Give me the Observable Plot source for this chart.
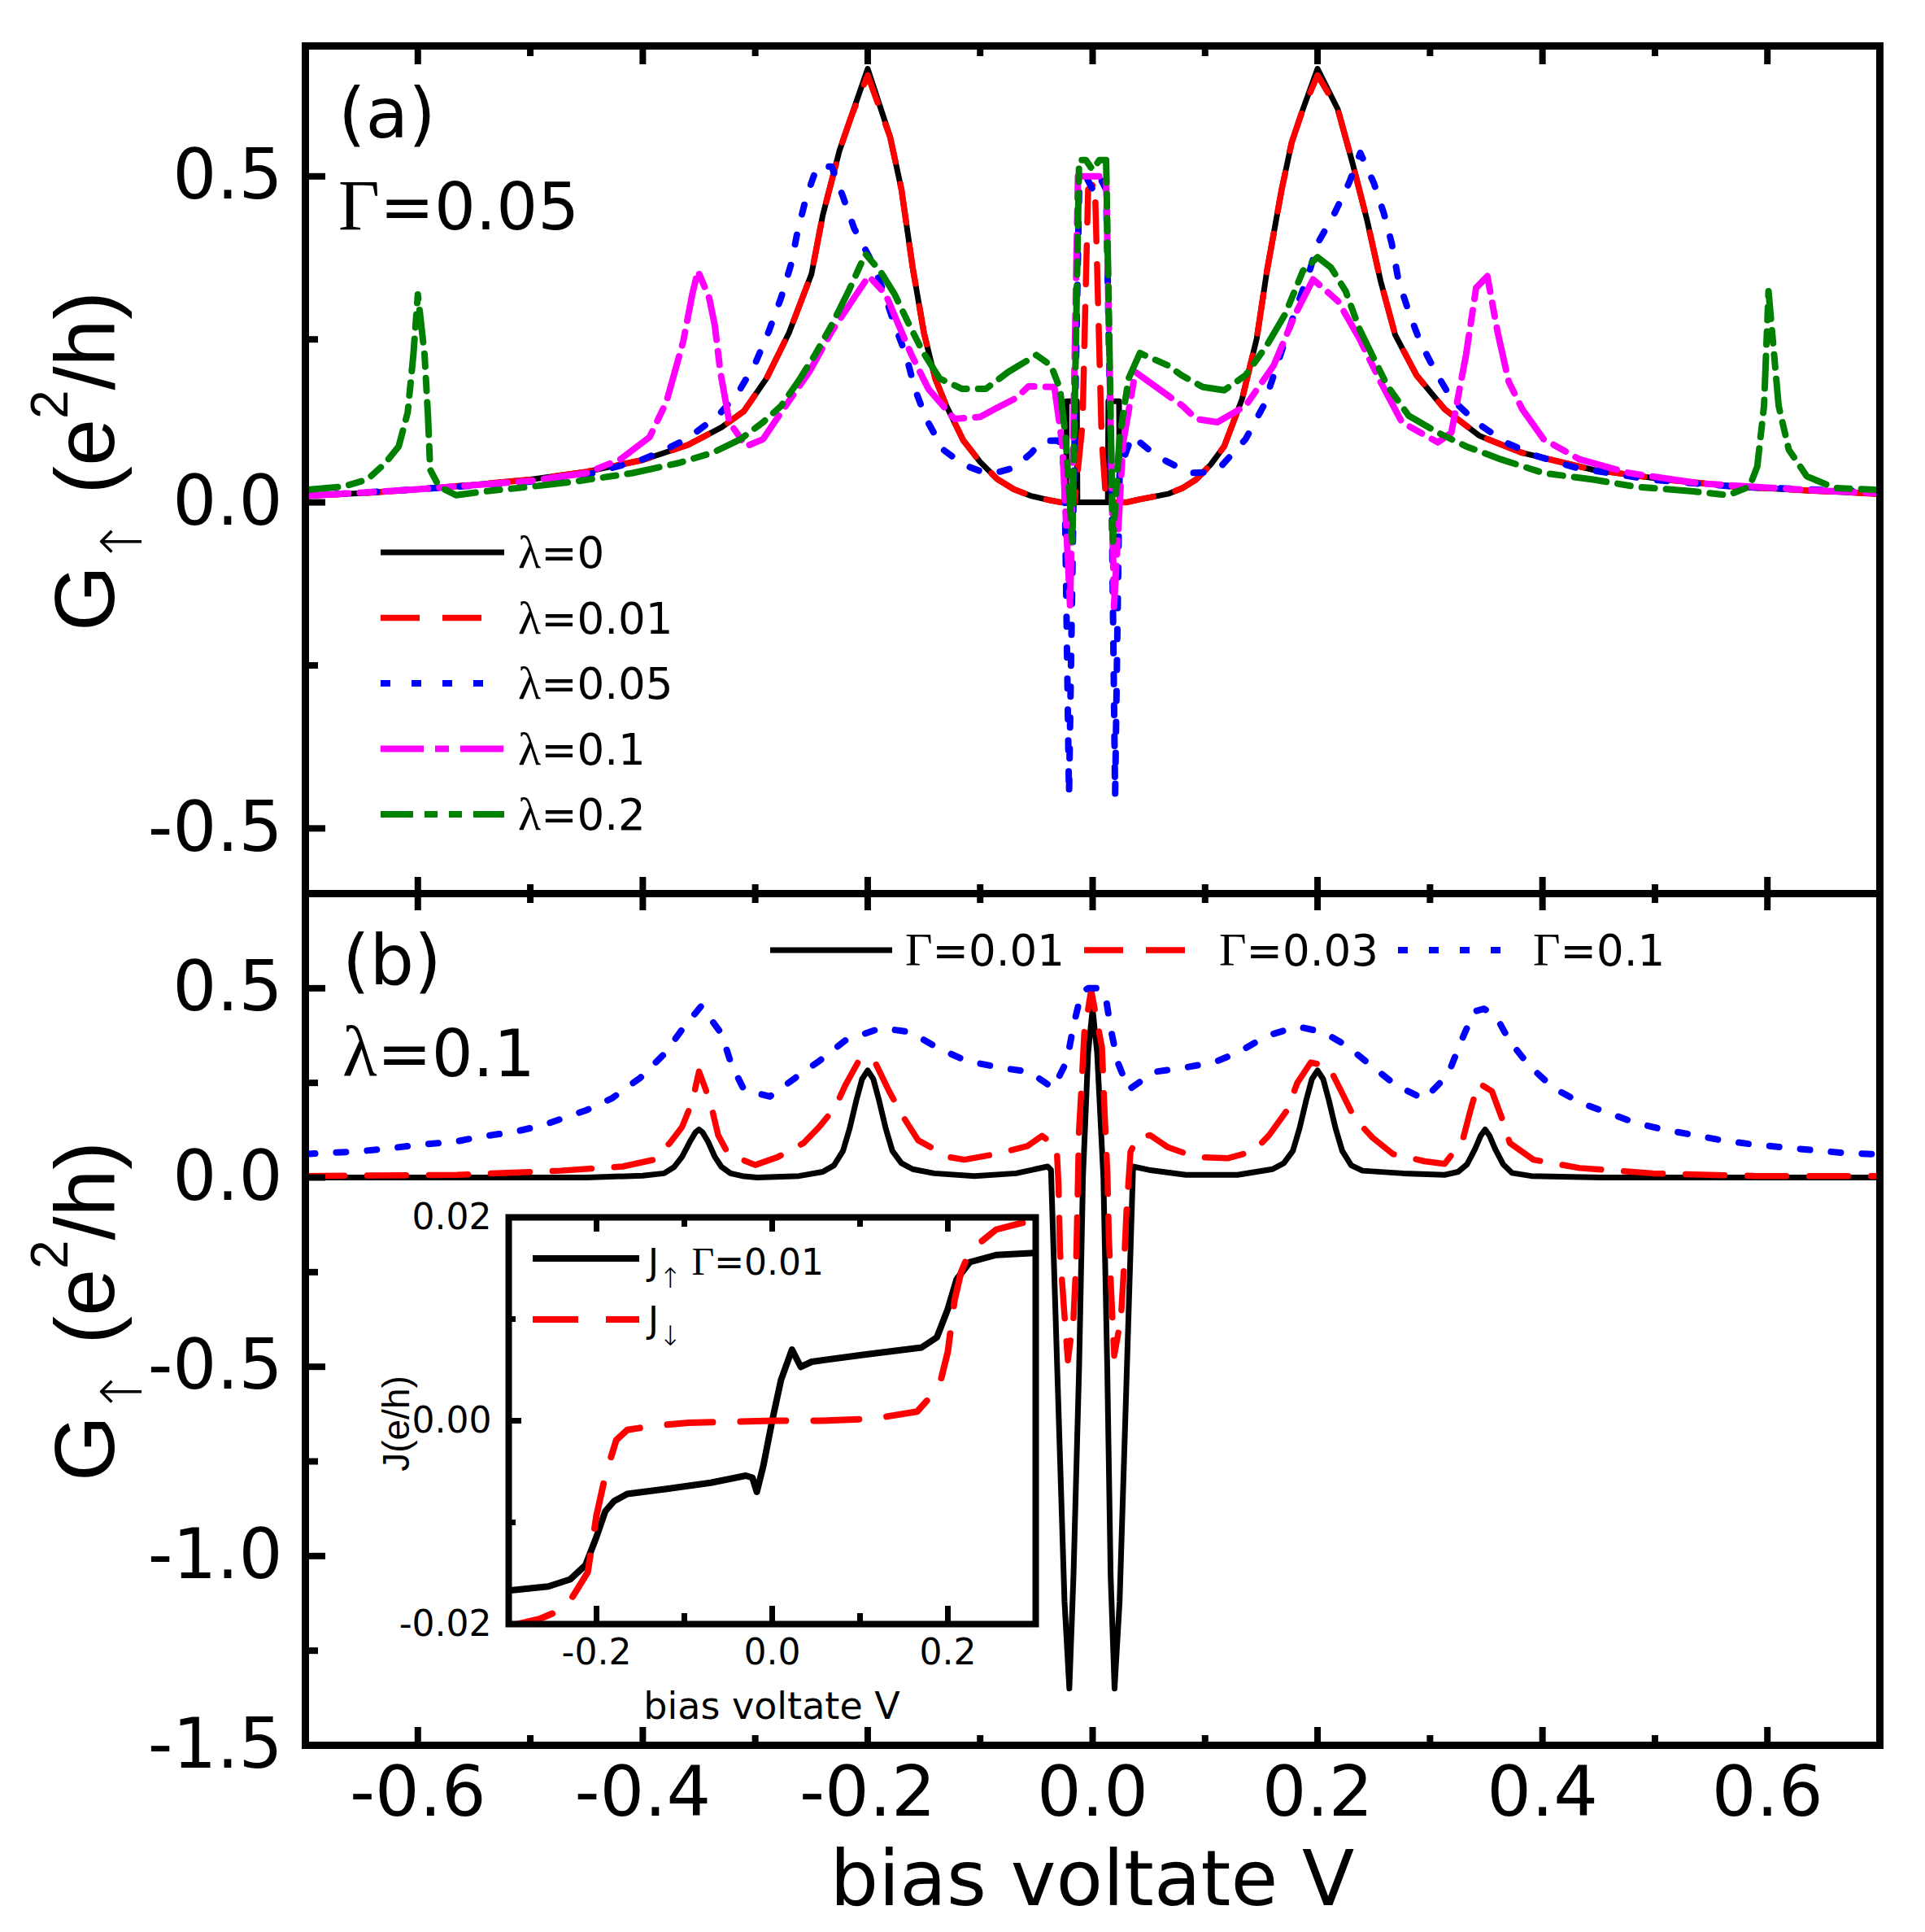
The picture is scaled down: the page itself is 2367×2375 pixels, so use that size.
<!DOCTYPE html>
<html lang="en">
<head>
<meta charset="utf-8">
<title>Spin-up conductance versus bias voltage</title>
<script src="https://cdn.jsdelivr.net/npm/d3@7"></script>
<script src="https://cdn.jsdelivr.net/npm/@observablehq/plot@0.6"></script>
<style>
  body { margin: 0; background: #fff; }
  #figure { position: relative; width: 2367px; height: 2375px; overflow: hidden; background: #fff; }
</style>
</head>
<body>
<div id="figure"></div>
<script>
// ---- ticks ----
const xMajor = [-0.6, -0.4, -0.2, 0, 0.2, 0.4, 0.6];
const xMinor = [-0.5, -0.3, -0.1, 0.1, 0.3, 0.5];
const yMajorA = [-0.5, 0, 0.5];
const yMinorA = [-0.25, 0.25];
const yMajorB = [-1.5, -1, -0.5, 0, 0.5];
const yMinorB = [-1.25, -0.75, -0.25, 0.25];
const insetXMajor = [-0.2, 0, 0.2];
const insetXMinor = [-0.1, 0.1];
const insetYMajor = [-0.02, 0, 0.02];
const insetYMinor = [-0.01, 0.01];

// ---- legend labels ----
const lambdaLabels = ["0", "0.01", "0.05", "0.1", "0.2"];
const gammaLabels = ["0.01", "0.03", "0.1"];

// ---- panel (a): G_up vs V, Gamma = 0.05, [V, G] ----
const gA_lam0 = [[-0.70,0.010],[-0.65,0.014],[-0.60,0.020],[-0.55,0.027],[-0.50,0.035],[-0.45,0.047],[-0.40,0.065],[-0.36,0.088],[-0.33,0.115],[-0.31,0.140],[-0.29,0.190],[-0.27,0.260],[-0.25,0.350],[-0.24,0.440],[-0.225,0.540],[-0.215,0.590],[-0.20,0.665],[-0.18,0.560],[-0.17,0.480],[-0.16,0.360],[-0.15,0.260],[-0.14,0.190],[-0.13,0.148],[-0.115,0.095],[-0.10,0.062],[-0.085,0.036],[-0.07,0.020],[-0.055,0.010],[-0.04,0.004],[-0.028,0.0],[-0.0235,0.0],[-0.023,0.155],[-0.014,0.155],[-0.0135,0.0],[0.0135,0.0],[0.014,0.155],[0.0235,0.155],[0.024,0.0],[0.03,0.0],[0.04,0.004],[0.055,0.009],[0.067,0.013],[0.08,0.022],[0.092,0.035],[0.105,0.058],[0.117,0.086],[0.133,0.159],[0.146,0.252],[0.155,0.355],[0.168,0.479],[0.177,0.552],[0.187,0.603],[0.20,0.665],[0.218,0.603],[0.231,0.521],[0.244,0.433],[0.256,0.340],[0.269,0.257],[0.288,0.195],[0.313,0.143],[0.344,0.102],[0.382,0.076],[0.445,0.050],[0.509,0.035],[0.572,0.024],[0.64,0.018],[0.70,0.013]];
const gA_lam001 = [[-0.70,0.010],[-0.65,0.014],[-0.60,0.020],[-0.55,0.027],[-0.50,0.035],[-0.45,0.047],[-0.40,0.065],[-0.36,0.088],[-0.33,0.115],[-0.31,0.140],[-0.29,0.190],[-0.27,0.260],[-0.25,0.350],[-0.24,0.440],[-0.225,0.540],[-0.215,0.590],[-0.20,0.655],[-0.18,0.560],[-0.17,0.480],[-0.16,0.360],[-0.15,0.260],[-0.14,0.190],[-0.13,0.148],[-0.115,0.095],[-0.10,0.062],[-0.085,0.036],[-0.07,0.020],[-0.055,0.010],[-0.04,0.004],[-0.028,0.0],[-0.016,0.0],[-0.009,0.12],[-0.004,0.48],[0.002,0.49],[0.008,0.10],[0.012,0.0],[0.03,0.0],[0.04,0.004],[0.055,0.009],[0.067,0.013],[0.08,0.022],[0.092,0.035],[0.105,0.058],[0.117,0.086],[0.133,0.159],[0.146,0.252],[0.155,0.355],[0.168,0.479],[0.177,0.552],[0.187,0.603],[0.20,0.655],[0.218,0.603],[0.231,0.521],[0.244,0.433],[0.256,0.340],[0.269,0.257],[0.288,0.195],[0.313,0.143],[0.344,0.102],[0.382,0.076],[0.445,0.050],[0.509,0.035],[0.572,0.024],[0.64,0.018],[0.70,0.013]];
const gA_lam005 = [[-0.70,0.010],[-0.60,0.020],[-0.50,0.032],[-0.45,0.042],[-0.40,0.066],[-0.386,0.076],[-0.361,0.097],[-0.333,0.133],[-0.315,0.169],[-0.30,0.213],[-0.288,0.262],[-0.277,0.314],[-0.268,0.366],[-0.263,0.41],[-0.255,0.466],[-0.245,0.515],[-0.232,0.515],[-0.222,0.469],[-0.212,0.42],[-0.196,0.368],[-0.186,0.324],[-0.176,0.272],[-0.166,0.226],[-0.158,0.174],[-0.148,0.128],[-0.133,0.081],[-0.115,0.058],[-0.10,0.048],[-0.085,0.046],[-0.07,0.053],[-0.055,0.075],[-0.045,0.094],[-0.03,0.095],[-0.025,0.05],[-0.021,-0.45],[-0.017,0.0],[-0.012,0.48],[-0.006,0.50],[0.0,0.48],[0.006,0.50],[0.012,0.48],[0.017,0.0],[0.020,-0.45],[0.024,0.05],[0.035,0.102],[0.057,0.071],[0.086,0.045],[0.10,0.046],[0.114,0.055],[0.136,0.097],[0.152,0.148],[0.162,0.20],[0.171,0.247],[0.18,0.293],[0.193,0.355],[0.20,0.397],[0.215,0.443],[0.228,0.49],[0.238,0.536],[0.25,0.49],[0.259,0.443],[0.266,0.397],[0.272,0.34],[0.281,0.293],[0.291,0.247],[0.305,0.20],[0.319,0.159],[0.341,0.123],[0.367,0.092],[0.395,0.071],[0.43,0.053],[0.496,0.035],[0.572,0.024],[0.70,0.016]];
const gA_lam01 = [[-0.70,0.010],[-0.60,0.020],[-0.50,0.033],[-0.45,0.045],[-0.42,0.066],[-0.394,0.10],[-0.379,0.154],[-0.364,0.247],[-0.356,0.319],[-0.351,0.355],[-0.341,0.314],[-0.336,0.272],[-0.331,0.20],[-0.323,0.123],[-0.308,0.086],[-0.293,0.097],[-0.275,0.143],[-0.252,0.20],[-0.232,0.262],[-0.212,0.314],[-0.199,0.347],[-0.184,0.319],[-0.174,0.278],[-0.161,0.226],[-0.146,0.174],[-0.123,0.128],[-0.10,0.131],[-0.085,0.145],[-0.068,0.160],[-0.057,0.178],[-0.034,0.177],[-0.027,0.09],[-0.020,-0.16],[-0.013,0.50],[-0.005,0.50],[0.005,0.50],[0.012,0.50],[0.019,-0.16],[0.027,0.09],[0.038,0.20],[0.054,0.18],[0.08,0.148],[0.092,0.128],[0.111,0.123],[0.136,0.148],[0.161,0.21],[0.18,0.288],[0.196,0.342],[0.218,0.309],[0.237,0.252],[0.256,0.185],[0.275,0.123],[0.307,0.092],[0.319,0.107],[0.332,0.226],[0.341,0.329],[0.351,0.347],[0.36,0.262],[0.37,0.185],[0.382,0.143],[0.401,0.097],[0.433,0.066],[0.477,0.045],[0.54,0.029],[0.635,0.019],[0.70,0.014]];
const gA_lam02 = [[-0.70,0.019],[-0.667,0.024],[-0.645,0.035],[-0.629,0.06],[-0.617,0.086],[-0.609,0.138],[-0.604,0.226],[-0.600,0.319],[-0.594,0.226],[-0.591,0.133],[-0.589,0.05],[-0.581,0.024],[-0.566,0.011],[-0.54,0.017],[-0.50,0.024],[-0.46,0.032],[-0.409,0.045],[-0.369,0.06],[-0.338,0.076],[-0.313,0.097],[-0.293,0.123],[-0.277,0.148],[-0.262,0.185],[-0.247,0.226],[-0.232,0.272],[-0.217,0.324],[-0.202,0.381],[-0.189,0.355],[-0.176,0.319],[-0.163,0.272],[-0.151,0.231],[-0.136,0.19],[-0.116,0.174],[-0.095,0.174],[-0.075,0.20],[-0.05,0.226],[-0.037,0.21],[-0.029,0.174],[-0.024,0.10],[-0.018,-0.06],[-0.012,0.525],[-0.006,0.525],[0.0,0.51],[0.006,0.525],[0.012,0.525],[0.018,-0.06],[0.024,0.10],[0.032,0.19],[0.042,0.229],[0.067,0.21],[0.079,0.195],[0.098,0.177],[0.117,0.172],[0.136,0.195],[0.155,0.241],[0.171,0.288],[0.187,0.355],[0.20,0.376],[0.212,0.36],[0.225,0.324],[0.237,0.267],[0.25,0.221],[0.262,0.179],[0.281,0.133],[0.307,0.107],[0.332,0.086],[0.363,0.066],[0.401,0.045],[0.445,0.035],[0.483,0.024],[0.534,0.017],[0.565,0.011],[0.584,0.024],[0.591,0.055],[0.597,0.148],[0.601,0.324],[0.606,0.226],[0.61,0.148],[0.619,0.081],[0.635,0.04],[0.66,0.022],[0.70,0.019]];

// ---- panel (b): G_up vs V, lambda = 0.1 ----
const gB_gam001 = [[-0.70,0.0],[-0.45,0.0],[-0.40,0.005],[-0.381,0.011],[-0.372,0.028],[-0.365,0.055],[-0.358,0.095],[-0.353,0.12],[-0.35,0.127],[-0.347,0.12],[-0.342,0.095],[-0.336,0.055],[-0.33,0.028],[-0.322,0.011],[-0.31,0.003],[-0.298,0.0],[-0.261,0.004],[-0.24,0.015],[-0.23,0.032],[-0.222,0.07],[-0.216,0.13],[-0.21,0.205],[-0.205,0.26],[-0.20,0.283],[-0.195,0.26],[-0.19,0.205],[-0.184,0.13],[-0.178,0.07],[-0.17,0.038],[-0.16,0.022],[-0.141,0.011],[-0.105,0.004],[-0.068,0.011],[-0.04,0.029],[-0.037,0.02],[-0.031,-0.55],[-0.025,-1.12],[-0.0207,-1.35],[-0.017,-1.05],[-0.012,-0.5],[-0.0086,0.0],[-0.004,0.33],[0.0,0.445],[0.004,0.33],[0.0096,0.0],[0.013,-0.5],[0.016,-1.05],[0.0195,-1.35],[0.024,-1.12],[0.030,-0.55],[0.036,0.029],[0.05,0.02],[0.083,0.007],[0.129,0.007],[0.16,0.022],[0.17,0.038],[0.178,0.07],[0.184,0.13],[0.19,0.205],[0.195,0.26],[0.20,0.283],[0.205,0.26],[0.21,0.205],[0.216,0.13],[0.222,0.07],[0.23,0.032],[0.24,0.018],[0.276,0.011],[0.313,0.007],[0.325,0.015],[0.333,0.035],[0.34,0.075],[0.345,0.11],[0.349,0.127],[0.353,0.11],[0.358,0.075],[0.365,0.035],[0.373,0.012],[0.39,0.004],[0.452,0.0],[0.70,0.0]];
const gB_gam003 = [[-0.70,0.004],[-0.565,0.007],[-0.473,0.018],[-0.418,0.029],[-0.39,0.047],[-0.376,0.091],[-0.365,0.134],[-0.356,0.20],[-0.35,0.28],[-0.34,0.20],[-0.333,0.112],[-0.324,0.062],[-0.30,0.033],[-0.28,0.054],[-0.257,0.091],[-0.243,0.134],[-0.229,0.185],[-0.22,0.243],[-0.208,0.308],[-0.20,0.315],[-0.194,0.308],[-0.181,0.228],[-0.169,0.163],[-0.155,0.098],[-0.128,0.054],[-0.114,0.047],[-0.086,0.062],[-0.058,0.083],[-0.045,0.11],[-0.032,0.081],[-0.0303,-0.02],[-0.029,-0.195],[-0.0255,-0.345],[-0.022,-0.483],[-0.017,-0.371],[-0.0146,-0.22],[-0.0134,-0.057],[-0.0122,0.119],[-0.0098,0.244],[-0.0074,0.382],[-0.0013,0.495],[0.0083,0.344],[0.0107,0.169],[0.0132,0.006],[0.0144,-0.157],[0.0168,-0.32],[0.0192,-0.471],[0.0252,-0.371],[0.0277,-0.245],[0.030,-0.095],[0.0337,0.068],[0.04,0.105],[0.051,0.112],[0.067,0.08],[0.092,0.054],[0.12,0.051],[0.143,0.069],[0.157,0.112],[0.173,0.178],[0.182,0.25],[0.194,0.304],[0.21,0.293],[0.221,0.228],[0.233,0.156],[0.249,0.105],[0.267,0.062],[0.295,0.043],[0.313,0.036],[0.329,0.098],[0.336,0.178],[0.343,0.25],[0.355,0.228],[0.364,0.156],[0.371,0.091],[0.392,0.047],[0.433,0.025],[0.498,0.011],[0.59,0.004],[0.70,0.004]];
const gB_gam01 = [[-0.70,0.062],[-0.653,0.069],[-0.628,0.076],[-0.598,0.087],[-0.568,0.094],[-0.542,0.109],[-0.515,0.12],[-0.489,0.138],[-0.45,0.178],[-0.427,0.21],[-0.402,0.264],[-0.381,0.326],[-0.365,0.391],[-0.348,0.453],[-0.33,0.38],[-0.321,0.297],[-0.31,0.232],[-0.287,0.214],[-0.264,0.264],[-0.243,0.308],[-0.22,0.362],[-0.188,0.395],[-0.162,0.384],[-0.137,0.341],[-0.112,0.308],[-0.082,0.29],[-0.056,0.279],[-0.035,0.236],[-0.023,0.307],[-0.017,0.401],[-0.010,0.489],[-0.004,0.50],[0.004,0.50],[0.011,0.489],[0.016,0.395],[0.022,0.307],[0.032,0.232],[0.055,0.279],[0.081,0.29],[0.108,0.304],[0.131,0.333],[0.154,0.373],[0.182,0.399],[0.205,0.384],[0.226,0.348],[0.247,0.297],[0.27,0.243],[0.295,0.207],[0.316,0.272],[0.327,0.355],[0.339,0.438],[0.348,0.446],[0.359,0.424],[0.371,0.359],[0.389,0.293],[0.41,0.236],[0.435,0.196],[0.459,0.17],[0.482,0.145],[0.507,0.127],[0.535,0.112],[0.56,0.098],[0.588,0.087],[0.613,0.08],[0.641,0.072],[0.668,0.065],[0.70,0.061]];

// ---- inset: J vs V, Gamma = 0.01 ----
const jUp = [[-0.30,-0.0167],[-0.255,-0.0163],[-0.23,-0.0156],[-0.2125,-0.0142],[-0.20,-0.0114],[-0.19,-0.0089],[-0.18,-0.0079],[-0.165,-0.0072],[-0.12,-0.0067],[-0.07,-0.0061],[-0.03,-0.0054],[-0.0225,-0.0056],[-0.0175,-0.0070],[-0.01,-0.0044],[0.0,0.0],[0.01,0.0040],[0.0225,0.0070],[0.0325,0.0053],[0.045,0.0058],[0.105,0.0065],[0.17,0.0072],[0.1875,0.0082],[0.20,0.0110],[0.21,0.0139],[0.225,0.0156],[0.255,0.0163],[0.30,0.0165]];
const jDown = [[-0.30,-0.0202],[-0.265,-0.0195],[-0.235,-0.0184],[-0.21,-0.0149],[-0.20,-0.0093],[-0.19,-0.0054],[-0.1775,-0.0019],[-0.165,-0.0009],[-0.135,-0.0005],[-0.095,-0.0002],[-0.045,-0.0001],[0.0,0.0],[0.055,0.0],[0.115,0.0002],[0.165,0.0009],[0.19,0.0033],[0.20,0.0068],[0.2075,0.0118],[0.215,0.0146],[0.225,0.0167],[0.255,0.0188],[0.30,0.0198]];

// ---- line styles ----
const solid = {color: "#000000", width: 7, dash: undefined};
const dashed = {color: "#ff0000", width: 7.5, dash: "48 28"};
const dotted = {color: "#0000ff", width: 8, dash: "12 26"};
const dashDot = {color: "#ff00ff", width: 8, dash: "53 14 17 14"};
const dashDotDot = {color: "#008000", width: 8, dash: "40 14 16 14 16 14"};
const insetSolid = {color: "#000000", width: 8, dash: undefined};
const insetDashed = {color: "#ff0000", width: 8, dash: "56 34"};

const seriesA = [gA_lam0, gA_lam001, gA_lam005, gA_lam01, gA_lam02];
const stylesA = [solid, dashed, dotted, dashDot, dashDotDot];
const seriesB = [gB_gam001, gB_gam003, gB_gam01];
const stylesB = [solid, dashed, dotted];

const W = 2367, H = 2375;
const X0 = 375, X1 = 2311, Y0 = 56, YM = 1098, Y1 = 2145;
const sans = "DejaVu Sans", serif = "Liberation Serif", arial = "Liberation Sans";
const fig = document.getElementById("figure");

function curve(data, st, extra = {}) {
  return Plot.line(data, {x: d => d[0], y: d => d[1], stroke: st.color, strokeWidth: st.width,
    strokeDasharray: st.dash, strokeLinejoin: "round", ...extra});
}
const noText = {tickFormat: () => "", label: null};
function xTicks(major, minor, anchor, lMajor, lMinor, sw) {
  return [
    Plot.axisX(major, {anchor, tickSize: -lMajor, strokeWidth: sw, ...noText}),
    Plot.axisX(minor, {anchor, tickSize: -lMinor, strokeWidth: sw, ...noText})
  ];
}
function yTicks(major, minor, lMajor, lMinor, sw) {
  return [
    Plot.axisY(major, {anchor: "left", tickSize: -lMajor, strokeWidth: sw, ...noText}),
    Plot.axisY(minor, {anchor: "left", tickSize: -lMinor, strokeWidth: sw, ...noText})
  ];
}
function place(el, left, top) {
  el.style.position = "absolute";
  el.style.left = left + "px";
  el.style.top = top + "px";
  fig.appendChild(el);
}

const common = {
  width: W, marginLeft: X0, marginRight: W - X1,
  x: {domain: [-0.7, 0.7], axis: null},
  style: {fontFamily: sans, fontSize: "85px", background: "transparent", overflow: "visible", color: "#000"}
};

const panelA = Plot.plot({
  ...common,
  height: YM, marginTop: Y0, marginBottom: 0,
  y: {domain: [-0.6, 0.7], axis: null},
  marks: [
    ...seriesA.map((s, i) => curve(s, stylesA[i])),
    Plot.frame({strokeWidth: 9}),
    ...xTicks(xMajor, xMinor, "top", 22, 12, 8),
    ...xTicks(xMajor, xMinor, "bottom", 20, 11, 8),
    ...yTicks(yMajorA, yMinorA, 25, 16, 8),
    Plot.axisY(yMajorA, {anchor: "left", tickSize: 0, tickPadding: 28, tickFormat: d => d.toFixed(1), label: null, fontSize: 85})
  ]
});
place(panelA, 0, 0);

const panelB = Plot.plot({
  ...common,
  height: H - YM, marginTop: 0, marginBottom: H - Y1,
  y: {domain: [-1.5, 0.75], axis: null},
  marks: [
    ...seriesB.map((s, i) => curve(s, stylesB[i])),
    Plot.frame({strokeWidth: 9}),
    ...xTicks(xMajor, xMinor, "top", 20, 11, 8),
    ...xTicks(xMajor, xMinor, "bottom", 22, 12, 8),
    ...yTicks(yMajorB, yMinorB, 25, 16, 8),
    Plot.axisY(yMajorB, {anchor: "left", tickSize: 0, tickPadding: 28, tickFormat: d => d.toFixed(1), label: null, fontSize: 85}),
    Plot.axisX(xMajor, {anchor: "bottom", tickSize: 0, tickPadding: 25, tickFormat: d => d.toFixed(1), label: null, fontSize: 86})
  ]
});
place(panelB, 0, YM);

// inset frame: x 625..1273, y 1496..2000
const inset = Plot.plot({
  width: 823, height: 680, marginLeft: 155, marginRight: 20, marginTop: 26, marginBottom: 154,
  x: {domain: [-0.3, 0.3], axis: null},
  y: {domain: [-0.02, 0.02], axis: null},
  style: {fontFamily: sans, fontSize: "44px", background: "transparent", overflow: "visible", color: "#000"},
  marks: [
    Plot.frame({fill: "#fff", stroke: "none"}),
    curve(jUp, insetSolid, {clip: true}),
    curve(jDown, insetDashed, {clip: true}),
    Plot.frame({strokeWidth: 8}),
    ...xTicks(insetXMajor, insetXMinor, "top", 17, 11, 7),
    ...xTicks(insetXMajor, insetXMinor, "bottom", 22, 13, 7),
    ...yTicks(insetYMajor, insetYMinor, 16, 9, 7),
    Plot.axisY(insetYMajor, {anchor: "left", tickSize: 0, tickPadding: 21, tickFormat: d => d.toFixed(2), label: null, fontSize: 44}),
    Plot.axisX(insetXMajor, {anchor: "bottom", tickSize: 0, tickPadding: 18, tickFormat: d => d.toFixed(1), label: null, fontSize: 44})
  ]
});
place(inset, 470, 1470);

// ---- overlay: titles, panel tags and legends ----
const NS = "http://www.w3.org/2000/svg";
function node(tag, attrs, parent) {
  const n = document.createElementNS(NS, tag);
  for (const k in attrs) if (attrs[k] != null) n.setAttribute(k, attrs[k]);
  if (parent) parent.appendChild(n);
  return n;
}
function label(parent, x, y, parts, attrs = {}) {
  const t = node("text", {x, y, "font-family": sans, fill: "#000", ...attrs}, parent);
  for (const [s, a] of parts) node("tspan", a || {}, t).textContent = s;
  return t;
}
function sample(parent, x1, x2, y, st) {
  node("line", {x1, x2, y1: y, y2: y, stroke: st.color, "stroke-width": st.width, "stroke-dasharray": st.dash}, parent);
}

const ov = node("svg", {width: W, height: H, viewBox: `0 0 ${W} ${H}`});
ov.style.pointerEvents = "none";
place(ov, 0, 0);

label(ov, 416, 169, [["(a)"]], {"font-size": 86});
label(ov, 416, 282, [["Γ", {"font-family": serif, "font-size": 88}], ["=0.05"]], {"font-size": 80});
label(ov, 421, 1210, [["(b)"]], {"font-size": 86});
label(ov, 421, 1323, [["λ", {"font-family": serif, "font-size": 88}], ["=0.1"]], {"font-size": 80});

lambdaLabels.forEach((lab, i) => {
  const y = 679 + i * 80.5;
  sample(ov, 468, 620, y, stylesA[i]);
  label(ov, 637, y + 19, [["λ", {"font-family": serif, "font-size": 58}], ["=" + lab]], {"font-size": 53});
});

const legendBPos = [[947, 1097, 1113], [1333, 1460, 1499], [1719, 1869, 1885]];
gammaLabels.forEach((lab, i) => {
  const [a, b, t] = legendBPos[i];
  sample(ov, a, b, 1168, stylesB[i]);
  label(ov, t, 1187, [["Γ", {"font-family": serif, "font-size": 58}], ["=" + lab]], {"font-size": 53});
});

const arrowFont = {"font-family": sans, "font-weight": 200};
sample(ov, 655, 786, 1547, insetSolid);
sample(ov, 655, 786, 1622, insetDashed);
label(ov, 797, 1567, [["J"], ["↑", {...arrowFont, "font-size": 34, dy: 16}], [" Γ", {"font-family": serif, "font-size": 48, dy: -16}], ["=0.01"]], {"font-size": 44});
label(ov, 797, 1638, [["J"], ["↓", {...arrowFont, "font-size": 34, dy: 16}]], {"font-size": 44});

function yTitle(cy) {
  label(ov, 0, 0, [["G"], ["↑", {...arrowFont, "font-size": 70, dy: 34}], [" (e", {dy: -34}], ["2", {"font-size": 64, dy: -57}], ["/h)", {dy: 57}]],
    {"font-family": arial, "font-size": 104, "text-anchor": "middle", transform: `translate(140,${cy}) rotate(-90)`});
}
yTitle(567);
yTitle(1612);
label(ov, 1343, 2342, [["bias voltate V"]], {"font-size": 94, "text-anchor": "middle"});

label(ov, 949, 2113, [["bias voltate V"]], {"font-size": 46, "text-anchor": "middle"});
label(ov, 0, 0, [["J(e/h)"]], {"font-family": arial, "font-size": 46, "text-anchor": "middle", transform: "translate(503,1750) rotate(-90)"});
</script>
</body>
</html>
